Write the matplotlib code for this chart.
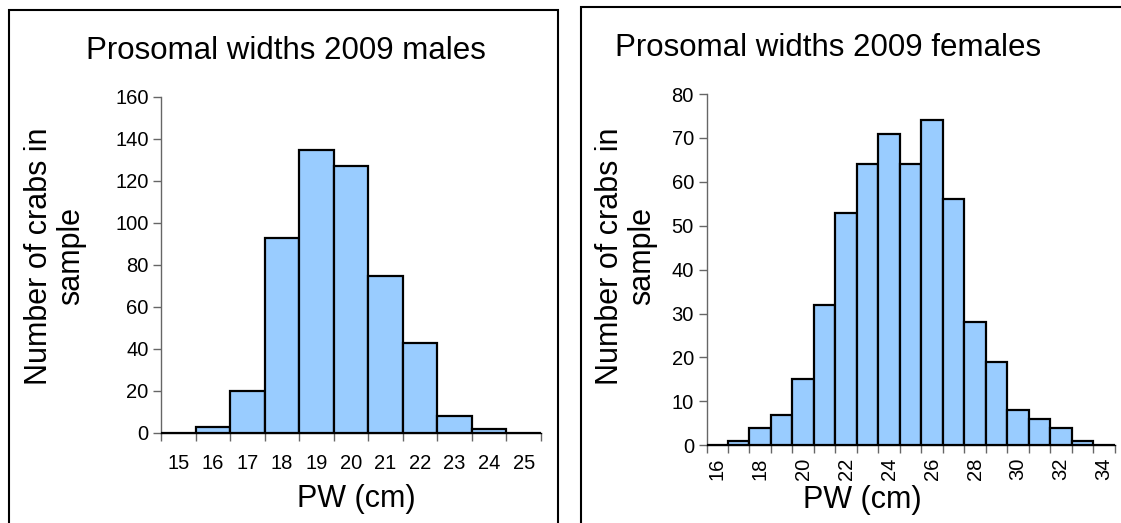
import matplotlib.pyplot as plt
import numpy as np
from matplotlib.patches import Rectangle

plt.rcParams["font.family"] = ["Liberation Sans", "DejaVu Sans"]

# prosomal width classes (cm) and counts per class
male_pw = [15, 16, 17, 18, 19, 20, 21, 22, 23, 24, 25]
male_counts = [0, 3, 20, 93, 135, 127, 75, 43, 8, 2, 0]

female_pw = [16, 17, 18, 19, 20, 21, 22, 23, 24, 25, 26, 27, 28, 29, 30, 31, 32, 33, 34]
female_counts = [0, 1, 4, 7, 15, 32, 53, 64, 71, 64, 74, 56, 28, 19, 8, 6, 4, 1, 0]

male_yticks = [0, 20, 40, 60, 80, 100, 120, 140, 160]
female_yticks = [0, 10, 20, 30, 40, 50, 60, 70, 80]

BAR_COLOR = "#99CCFF"
AXIS_COLOR = "#666666"
W, H = 1121, 523


def fx(px):
    return px / W


def fy(py):
    return 1 - py / H


def draw_hist(ax, classes, counts, yticks, label_step, rotate, xpad):
    n = len(classes)
    x = np.arange(n)
    ax.bar(x, counts, width=1.0, color=BAR_COLOR, edgecolor="black", linewidth=1.6, zorder=3)
    ax.set_xlim(-0.5, n - 0.5)
    ax.set_ylim(yticks[0], yticks[-1])
    ax.set_yticks(yticks)
    ax.set_yticklabels([str(v) for v in yticks], fontsize=14.5)
    ax.set_xticks(x[::label_step])
    ax.set_xticklabels([str(c) for c in classes[::label_step]], fontsize=14.5,
                       rotation=90 if rotate else 0)
    ax.set_xticks(np.arange(n + 1) - 0.5, minor=True)
    ax.tick_params(axis="x", which="major", length=0, pad=xpad)
    ax.tick_params(axis="x", which="minor", length=6, width=1, color=AXIS_COLOR, direction="out")
    ax.tick_params(axis="y", length=6, width=1, color=AXIS_COLOR, direction="out", pad=3)
    for s in ("top", "right"):
        ax.spines[s].set_visible(False)
    ax.spines["left"].set_color(AXIS_COLOR)
    ax.spines["left"].set_linewidth(1)
    ax.spines["bottom"].set_color("black")
    ax.spines["bottom"].set_linewidth(1)
    ax.spines["bottom"].set_zorder(4)


fig = plt.figure(figsize=(W / 100, H / 100), dpi=100)

# chart frames
fig.patches.append(Rectangle((fx(9), fy(560)), fx(558) - fx(9), fy(10) - fy(560),
                             transform=fig.transFigure, fill=False, edgecolor="black", linewidth=1.5))
fig.patches.append(Rectangle((fx(581), fy(560)), fx(1140) - fx(581), fy(7) - fy(560),
                             transform=fig.transFigure, fill=False, edgecolor="black", linewidth=1.5))

ax1 = fig.add_axes([fx(161), fy(433), fx(541) - fx(161), fy(97) - fy(433)])
draw_hist(ax1, male_pw, male_counts, male_yticks, 1, False, 15)

ax2 = fig.add_axes([fx(706.5), fy(445.3), fx(1114.7) - fx(706.5), fy(94) - fy(445.3)])
draw_hist(ax2, female_pw, female_counts, female_yticks, 2, True, 9)

fig.text(fx(286), fy(51), "Prosomal widths 2009 males", fontsize=22.5, ha="center", va="center")
fig.text(fx(828), fy(48), "Prosomal widths 2009 females", fontsize=22.5, ha="center", va="center")

fig.text(fx(55), fy(256), "Number of crabs in\nsample", fontsize=22, rotation=90,
         ha="center", va="center", multialignment="center", linespacing=1.12)
fig.text(fx(626), fy(256), "Number of crabs in\nsample", fontsize=22, rotation=90,
         ha="center", va="center", multialignment="center", linespacing=1.12)

fig.text(fx(356), fy(499), "PW (cm)", fontsize=22, ha="center", va="center")
fig.text(fx(862), fy(500), "PW (cm)", fontsize=22, ha="center", va="center")

fig.savefig("out.png", dpi=100)
